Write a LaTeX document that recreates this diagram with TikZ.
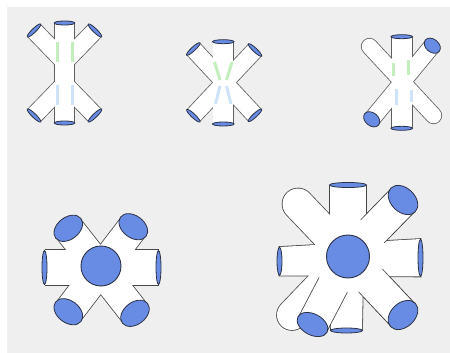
\documentclass[tikz,border=0pt]{standalone}
\usetikzlibrary{calc}
\definecolor{bg}{RGB}{239,239,239}
\definecolor{edgec}{RGB}{72,72,72}
\definecolor{edgelight}{RGB}{95,95,95}
\definecolor{capfill}{RGB}{104,140,228}
\definecolor{capedge}{RGB}{45,50,70}
\definecolor{stripeg}{RGB}{196,238,190}
\definecolor{stripeb}{RGB}{206,226,248}

\tikzset{
  % two passes: a dark stroke a little wider than the tube, then the white tube
  ink/.style={draw=edgec, line width={(2*#1+1.6)*1pt}},
  paper/.style={draw=white, line width={(2*#1)*1pt}},
  ink poly/.style={draw=edgec, line width=1.6pt},
  paper poly/.style={fill=white},
  capst/.style={fill=capfill, draw=capedge, line width=0.8pt},
  hub/.style={fill=capfill, draw=capedge, line width=0.9pt},
  gstripe/.style={draw=stripeg, line width=3pt},
  bstripe/.style={draw=stripeb, line width=3pt},
}

% end cap: centre, angle of the tube, radius along the tube, radius across it
\newcommand\capat[4]{%
  \draw[capst, rotate around={#2:#1}] #1 ellipse [x radius=#3, y radius=#4];}

% a tube piece in front: edges from distance #4 on, white from the hub out
\newcommand\frontseg[4]{%
  \draw[ink=#3] ($#1!#4pt!#2$) -- #2;
  \draw[paper=#3] #1 -- #2;}

\newcommand\shapeone[1]{%
  \draw[#1=9.5] (64.5,23) -- (64.5,123);
  \draw[#1=8.5] (64.5,62) -- (34,30.5);
  \draw[#1=8.5] (64.5,62) -- (95,30.5);
  \draw[#1=8.5] (64.5,84) -- (34,115.5);
  \draw[#1=8.5] (64.5,84) -- (95,115.5);}

\newcommand\shapetwo[1]{%
  \draw[#1=10] (223.3,41.7) -- (223.3,124);
  \draw[#1=8.3] (193.3,49) -- (255,115.3);
  \draw[#1=8.3] (255,50) -- (193.3,115.7);}

\newcommand\shapethree[1]{%
  \draw[#1=10] (401.7,36.7) -- (401.7,128.3);
  \draw[#1=7.8, line cap=round] (369.5,46.5) -- (433.5,115.5);
  \draw[#1=8] (432.3,45.7) -- (371.7,119.3);}

\newcommand\shapefour[1]{%
  \draw[#1=17.5] (44.5,267.5) -- (158.5,267.5);
  \draw[#1=15] (68.3,228.3) -- (135,313.3);
  \draw[#1=15] (133.3,226.7) -- (68.3,311.7);}

\newcommand\shapefive[1]{%
  \path[#1 poly] (279.5,247) -- (420.5,239) -- (420.5,276.5) -- (279.5,275.5) -- cycle;
  \draw[#1=18] (C5) -- (348,185);
  \draw[#1=15.5] (C5) -- (346.5,330.5);
  \draw[#1=15.5, line cap=round] (C5) -- (298,204);
  \draw[#1=15, line cap=round] (C5) -- (292,315);
  \draw[#1=16] (C5) -- (403,200);
  \draw[#1=16] (C5) -- (403,315);
  \draw[#1=15.5] (C5) -- (312.5,324.5);}

\begin{document}
\begin{tikzpicture}[x=1pt,y=-1pt]
\useasboundingbox (0,0) rectangle (450,353);
\fill[white] (0,0) rectangle (450,353);
\fill[bg] (7,7) rectangle (450,353);

\coordinate (C5) at (348,256.5);

\begin{scope}
% the three small figures have lighter outlines
\colorlet{edgec}{edgelight}
% first figure: straight bar with two bent pairs of arms
\shapeone{ink}\shapeone{paper}
\draw[gstripe] (57.5,42) -- (57.5,62);
\draw[gstripe] (72,42) -- (72,62);
\draw[bstripe] (57.5,85) -- (57.5,105);
\draw[bstripe] (72,85) -- (72,105);
\capat{(64.5,23)}{90}{2}{10.3}
\capat{(64.5,123)}{90}{2}{10.3}
\capat{(34,30.5)}{134.1}{2}{9.3}
\capat{(95,30.5)}{45.9}{2}{9.3}
\capat{(34,115.5)}{45.9}{2}{9.3}
\capat{(95,115.5)}{134.1}{2}{9.3}

% second figure: bar with a crossing pair
\shapetwo{ink}\shapetwo{paper}
\draw[gstripe] (214.5,62) -- (220,80);
\draw[gstripe] (232,62) -- (226.5,80);
\draw[bstripe] (220,86) -- (215.5,104);
\draw[bstripe] (226.5,86) -- (231,104);
\capat{(223.3,41.7)}{90}{2}{10.8}
\capat{(223.3,124)}{90}{2}{10.8}
\capat{(193.3,49)}{132.9}{2}{9.1}
\capat{(255,115.3)}{132.9}{2}{9.1}
\capat{(255,50)}{46.8}{2}{9.1}
\capat{(193.3,115.7)}{46.8}{2}{9.1}

% third figure: bar, a round-ended tube and an open tube
\shapethree{ink}\shapethree{paper}
\draw[gstripe] (393,63) -- (393,76);
\draw[gstripe] (408,60) -- (408,75);
\draw[bstripe] (396.7,89) -- (396.7,105);
\draw[bstripe] (411,90) -- (411,102);
\capat{(401.7,36.7)}{90}{2}{10.8}
\capat{(401.7,128.3)}{90}{2}{10.8}
\capat{(432.3,45.7)}{50.5}{6.5}{9}
\capat{(371.7,119.3)}{50.5}{6.5}{9}
\end{scope}

% fourth figure: hub with six openings
\shapefour{ink}\shapefour{paper}
\capat{(44.5,267.5)}{0}{2.5}{17}
\capat{(158.5,267.5)}{0}{2.5}{17}
\capat{(68.3,228.3)}{128.1}{11}{16}
\capat{(135,313.3)}{128.1}{11}{16}
\capat{(133.3,226.7)}{52.6}{11}{16}
\capat{(68.3,311.7)}{52.6}{11}{16}
\draw[hub] (101,266) circle [radius=20];

% fifth figure: hub with eight tubes
\shapefive{ink}\shapefive{paper}
\frontseg{(C5)}{(403,200)}{16}{35}
\frontseg{(C5)}{(403,315)}{16}{33}
\frontseg{(C5)}{(312.5,324.5)}{15.5}{32}
\capat{(348,185)}{90}{2.5}{18.5}
\capat{(346.5,330.5)}{90}{2.5}{16}
\capat{(279.5,261.25)}{0}{2.5}{14}
\capat{(420.5,257.75)}{0}{2.5}{18.5}
\capat{(403,200)}{46}{12}{17}
\capat{(403,315)}{-46.5}{12}{17}
\capat{(312.5,324.5)}{62.1}{10.5}{16.5}
\draw[hub] (C5) circle [radius=21.5];
\end{tikzpicture}
\end{document}
